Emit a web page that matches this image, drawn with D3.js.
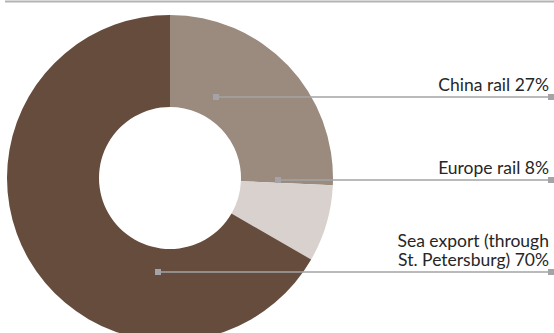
<!DOCTYPE html>
<html>
<head>
<meta charset="utf-8">
<script src="https://cdn.jsdelivr.net/npm/d3@7/dist/d3.min.js"></script>
<style>
  html, body { margin: 0; padding: 0; background: #fff; }
  svg { display: block; }
  text { font-family: Lato, "Noto Sans", sans-serif; font-size: 17.5px; fill: #262626; }
</style>
</head>
<body>
<svg id="chart" width="554" height="333"></svg>
<script>
// Export routes, share of volume (%)
const routes = ["China rail", "Europe rail", "Sea export (through St. Petersburg)"];
const shares = [27, 8, 70];
const labelLines = [["China rail 27%"], ["Europe rail 8%"], ["Sea export (through", "St. Petersburg) 70%"]];

const colors = ["#9b8a7e", "#d9d1cd", "#654c3d"];

const W = 554, H = 333;
const cx = 170, cy = 178, outerR = 163, innerR = 71;

// Leader anchors relative to donut centre
const leaders = [
  { dx: 46, dy: -81 },
  { dx: 108, dy: 2 },
  { dx: -12, dy: 94 }
];
const leaderEnd = 550;

const svg = d3.select("#chart");

// thin rule across the top
svg.append("line")
  .attr("x1", 5).attr("x2", W).attr("y1", 1.5).attr("y2", 1.5)
  .attr("stroke", "#b3b3b3").attr("stroke-width", 2);

const pie = d3.pie().sort(null).value(d => d);
const arc = d3.arc().innerRadius(innerR).outerRadius(outerR);
const color = d3.scaleOrdinal().domain(routes).range(colors);

const g = svg.append("g").attr("transform", `translate(${cx},${cy})`);
g.selectAll("path")
  .data(pie(shares))
  .join("path")
  .attr("d", arc)
  .attr("fill", (d, i) => color(routes[i]));

// leaders and labels
const lab = svg.append("g");
leaders.forEach((p, i) => {
  const x0 = cx + p.dx, y0 = cy + p.dy;
  lab.append("line")
    .attr("x1", x0).attr("x2", leaderEnd).attr("y1", y0).attr("y2", y0)
    .attr("stroke", "#a3a3a6").attr("stroke-width", 1.5);
  lab.append("rect")
    .attr("x", x0 - 3).attr("y", y0 - 3).attr("width", 6).attr("height", 6)
    .attr("fill", "#a3a3a8");
  lab.append("rect")
    .attr("x", leaderEnd - 2).attr("y", y0 - 3).attr("width", 6).attr("height", 6)
    .attr("fill", "#a3a3a8");
  const lines = labelLines[i];
  const t = lab.append("text").attr("text-anchor", "end");
  lines.forEach((s, k) => {
    t.append("tspan")
      .attr("x", 549)
      .attr("y", y0 - 6 - (lines.length - 1 - k) * 19)
      .text(s);
  });
});
</script>
</body>
</html>
